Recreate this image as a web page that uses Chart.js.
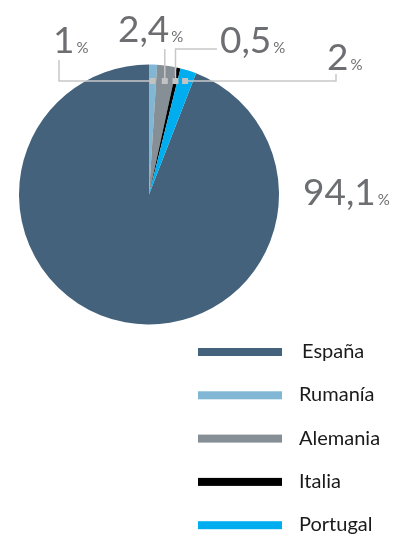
<!DOCTYPE html>
<html>
<head>
<meta charset="utf-8">
<script src="https://cdn.jsdelivr.net/npm/chart.js@4/dist/chart.umd.min.js"></script>
<style>
html,body{margin:0;padding:0;background:#fff;}
canvas{display:block;}
</style>
</head>
<body>
<canvas id="c" width="401" height="536"></canvas>
<script>
const categories = ["España", "Rumanía", "Alemania", "Italia", "Portugal"];
const values = [94.1, 1, 2.4, 0.5, 2];
const valueLabels = ["94,1", "1", "2,4", "0,5", "2"];
const colors = ["#44627c", "#81b7d4", "#878f96", "#000000", "#00adef"];

const total = values.reduce((a, b) => a + b, 0);

// label layout: text anchor (left, baseline) and leader path style
const labelLayout = [
  {tx: 303, ty: 205, leader: null},
  {tx: 53, ty: 53, leader: "left", hx: 59, vy: 60},
  {tx: 118, ty: 42, leader: "up", vy: 49},
  {tx: 220, ty: 53, leader: "upright", vy: 49, hx: 217},
  {tx: 327, ty: 70, leader: "right", hx: 336, vy: 74}
];

const labelPlugin = {
  id: "labelPlugin",
  afterDatasetsDraw(chart) {
    const ctx = chart.ctx;
    const meta = chart.getDatasetMeta(0);
    const first = meta.data[0];
    const cx = first.x, cy = first.y, r = first.outerRadius;
    const my = cy - 0.873 * r;
    ctx.save();
    const markers = [];
    meta.data.forEach((arc, i) => {
      const L = labelLayout[i];
      if (L.leader) {
        const mid = (arc.startAngle + arc.endAngle) / 2;
        const mx = cx + (cy - my) / Math.tan(-mid);
        markers.push([mx, my]);
        ctx.strokeStyle = "#c8c8c8";
        ctx.lineWidth = 1.5;
        ctx.beginPath();
        ctx.moveTo(mx, my);
        if (L.leader === "left") {
          ctx.lineTo(L.hx, my); ctx.lineTo(L.hx, L.vy);
        } else if (L.leader === "up") {
          ctx.lineTo(mx, L.vy);
        } else if (L.leader === "upright") {
          ctx.lineTo(mx, L.vy); ctx.lineTo(L.hx, L.vy);
        } else if (L.leader === "right") {
          ctx.lineTo(L.hx, my); ctx.lineTo(L.hx, L.vy);
        }
        ctx.stroke();
      }
      ctx.fillStyle = "#6d6e71";
      ctx.textBaseline = "alphabetic";
      ctx.textAlign = "left";
      ctx.font = "37px Lato, 'Open Sans', sans-serif";
      const t = valueLabels[i];
      ctx.fillText(t, L.tx, L.ty);
      const w = ctx.measureText(t).width;
      ctx.font = "15px Lato, 'Open Sans', sans-serif";
      ctx.fillText("%", L.tx + w + 2, L.ty);
    });
    ctx.fillStyle = "#c3c3c3";
    markers.forEach(([x, y]) => ctx.fillRect(x - 3, y - 3, 6, 6));
    ctx.restore();
  }
};

const legendPlugin = {
  id: "customLegend",
  afterDraw(chart) {
    const ctx = chart.ctx;
    const ds = chart.data.datasets[0];
    ctx.save();
    chart.data.labels.forEach((lab, i) => {
      const yc = 352 + i * 43.3;
      ctx.fillStyle = ds.backgroundColor[i];
      ctx.fillRect(198, yc - 4, 84, 8);
      ctx.fillStyle = "#1a1a1a";
      ctx.font = "20px Lato, 'Open Sans', sans-serif";
      ctx.textBaseline = "alphabetic";
      ctx.fillText(lab, i === 0 ? 302 : 299, yc + 6);
    });
    ctx.restore();
  }
};

new Chart(document.getElementById("c"), {
  type: "pie",
  data: {
    labels: categories,
    datasets: [{
      data: values,
      backgroundColor: colors,
      borderWidth: 0
    }]
  },
  options: {
    responsive: false,
    devicePixelRatio: 1,
    animation: false,
    rotation: 360 * (1 - values[0] / total),
    layout: {padding: {left: 19, top: 64, right: 122, bottom: 211}},
    plugins: {
      legend: {display: false},
      tooltip: {enabled: false}
    }
  },
  plugins: [labelPlugin, legendPlugin]
});
</script>
</body>
</html>
